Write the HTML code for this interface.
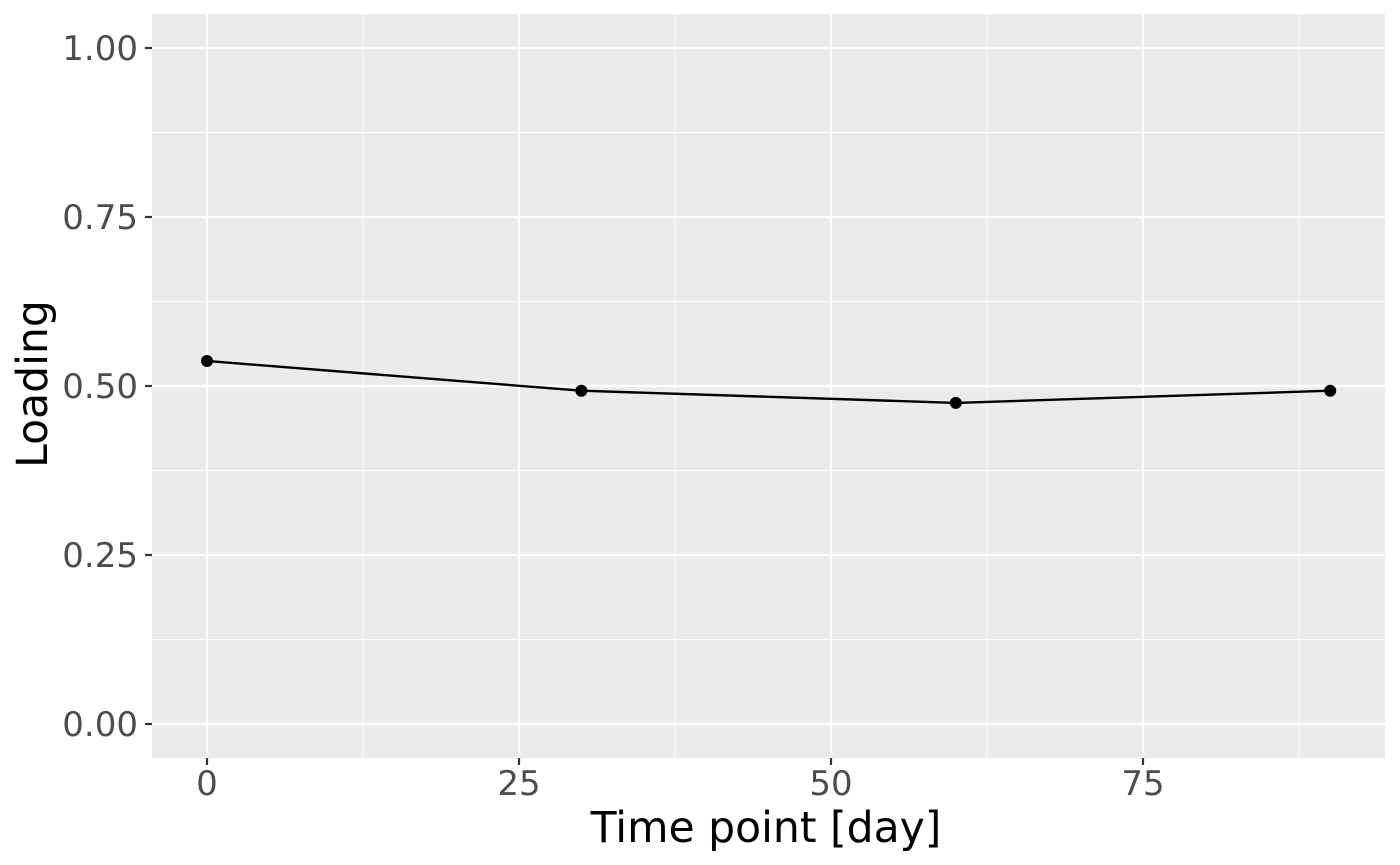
<!DOCTYPE html>
<html><head><meta charset="utf-8"><style>body{margin:0;background:#fff}svg{display:block}text{font-family:"DejaVu Sans","Liberation Sans",sans-serif}</style></head>
<body>
<svg id="chart" width="1400" height="865" xmlns="http://www.w3.org/2000/svg"></svg>
<script>
const days = [0, 30, 60, 90];
const loadings = [0.537, 0.493, 0.475, 0.493];
const xTicks = [0, 25, 50, 75];
const yTicks = [0, 0.25, 0.5, 0.75, 1.0];
const yTickLabels = ["0.00", "0.25", "0.50", "0.75", "1.00"];

const svg = document.getElementById('chart');
const NS = 'http://www.w3.org/2000/svg';
const L = 152, R = 1385, T = 14, B = 758;
const x = d => 207 + (d - 0) * (1123.2 / 90);
const y = v => 724 - v * 676;
function mk(tag, attrs, parent) {
  const e = document.createElementNS(NS, tag);
  for (const k in attrs) e.setAttribute(k, attrs[k]);
  (parent || svg).appendChild(e);
  return e;
}
const bg = mk('rect', {x: L, y: T, width: R - L, height: B - T, fill: '#ebebeb'});


const grid = mk('g', {});


for (let i = 0; i < yTicks.length - 1; i++) {
  const v = (yTicks[i] + yTicks[i + 1]) / 2;
  mk('line', {x1: L, x2: R, y1: y(v), y2: y(v), stroke: '#fff', 'stroke-width': 1.1}, grid);
}
for (let i = 0; i < xTicks.length; i++) {
  const v = xTicks[i] + 12.5;
  mk('line', {x1: x(v), x2: x(v), y1: T, y2: B, stroke: '#fff', 'stroke-width': 1.1}, grid);
}
yTicks.forEach((v, i) => {
  mk('line', {x1: L, x2: R, y1: y(v), y2: y(v), stroke: '#fff', 'stroke-width': 2.2}, grid);
  mk('line', {x1: L - 7, x2: L, y1: y(v), y2: y(v), stroke: '#333', 'stroke-width': 2.2});
  const t = mk('text', {x: L - 14, y: y(v) + 12, 'text-anchor': 'end', 'font-size': 34, fill: '#4d4d4d'});
  t.textContent = yTickLabels[i];
  
  
});
xTicks.forEach(v => {
  mk('line', {x1: x(v), x2: x(v), y1: T, y2: B, stroke: '#fff', 'stroke-width': 2.2}, grid);
  mk('line', {x1: x(v), x2: x(v), y1: B, y2: B + 7, stroke: '#333', 'stroke-width': 2.2});
  const t = mk('text', {x: x(v), y: 795, 'text-anchor': 'middle', 'font-size': 34, fill: '#4d4d4d'});
  t.textContent = v;
  
  
});
const line = mk('polyline', {points: days.map((d, i) => x(d) + ',' + y(loadings[i])).join(' '), fill: 'none', stroke: '#000', 'stroke-width': 2.4});


days.forEach((d, i) => {
  const c = mk('circle', {cx: x(d), cy: y(loadings[i]), r: 6, fill: '#000'});
  
  
});
const xt = mk('text', {x: 766, y: 842, 'text-anchor': 'middle', 'font-size': 42.5, fill: '#000'});
xt.textContent = 'Time point [day]';


const yt = mk('text', {x: 0, y: 0, transform: `translate(47,384) rotate(-90)`, 'text-anchor': 'middle', 'font-size': 42.5, fill: '#000'});
yt.textContent = 'Loading';


</script>
</body></html>
